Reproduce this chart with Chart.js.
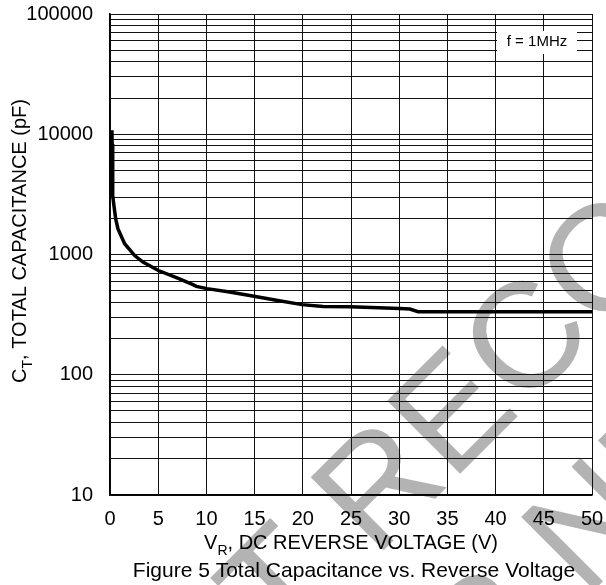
<!DOCTYPE html>
<html>
<head>
<meta charset="utf-8">
<script src="https://cdn.jsdelivr.net/npm/chart.js@4.4.1/dist/chart.umd.min.js"></script>
<style>
  html, body { margin: 0; padding: 0; background: #fff; }
  #wrap { width: 606px; height: 585px; }
</style>
</head>
<body>
<div id="wrap"><canvas id="capChart" width="606" height="585"></canvas></div>
<script>
// Reverse voltage (V) vs total capacitance (pF)
const voltage = [0.2, 0.22, 0.25, 0.28, 0.31, 0.41, 0.59, 0.83, 1.52, 2.56, 3.42, 5.02, 6.89, 8.61, 8.96, 10.06, 12.4, 14.94, 17.26, 19.92, 22.1, 24.9, 30.05, 31.1, 31.96, 50];
const capacitance = [10800, 8300, 6200, 4500, 3080, 2540, 1980, 1630, 1230, 980, 865, 736, 641, 561, 543, 520, 488, 449, 416, 383, 369, 367, 355, 352, 334, 334];

// axis ticks
const xTicks = [0, 5, 10, 15, 20, 25, 30, 35, 40, 45, 50];
const decades = [10, 100, 1000, 10000];
const minorSteps = [1, 2, 3, 4, 5, 6, 7, 8, 9];
const yLabels = ['10', '100', '1000', '10000', '100000'];

const FONT = '"Liberation Sans", Arial, Helvetica, sans-serif';

// every 1..9 x 10^n line, plus the top one
const yTicks = [];
decades.forEach(d => minorSteps.forEach(m => yTicks.push(d * m)));
yTicks.push(100000);

// draws "A" + subscript + rest, centred horizontally on 0, baseline at 0
function textWithSub(ctx, main, sub, rest, size) {
    const subSize = Math.round(size * 0.7);
    ctx.font = size + 'px ' + FONT;
    const w1 = ctx.measureText(main).width;
    const w3 = ctx.measureText(rest).width;
    ctx.font = subSize + 'px ' + FONT;
    const w2 = ctx.measureText(sub).width;
    let x = -(w1 + w2 + w3) / 2;
    ctx.textAlign = 'left';
    ctx.textBaseline = 'alphabetic';
    ctx.font = size + 'px ' + FONT;
    ctx.fillText(main, x, 0);
    x += w1;
    ctx.font = subSize + 'px ' + FONT;
    ctx.fillText(sub, x, size * 0.3);
    x += w2;
    ctx.font = size + 'px ' + FONT;
    ctx.fillText(rest, x, 0);
}

const decorations = {
    id: 'decorations',
    beforeDraw(chart) {
        const ctx = chart.ctx;
        ctx.save();
        ctx.fillStyle = '#fff';
        ctx.fillRect(0, 0, chart.width, chart.height);

        // grey watermark behind the grid, "R" of the first line anchored
        ctx.translate(375, 559);
        ctx.rotate(-Math.PI / 4);
        ctx.font = '150px ' + FONT;
        ctx.fillStyle = '#b3b3b3';
        ctx.textAlign = 'left';
        ctx.textBaseline = 'alphabetic';
        const lead = ctx.measureText('NOT ').width;
        const w1 = ctx.measureText('NOT RECOMMENDED').width;
        const w2 = ctx.measureText('FOR NEW DESIGN').width;
        ctx.fillText('NOT RECOMMENDED', -lead, 0);
        ctx.fillText('FOR NEW DESIGN', -lead + (w1 - w2) / 2, 177);
        ctx.restore();
    },
    afterDraw(chart) {
        const ctx = chart.ctx;
        const area = chart.chartArea;
        ctx.save();
        ctx.fillStyle = '#000';

        // y title
        ctx.save();
        ctx.translate(26, 241);
        ctx.rotate(-Math.PI / 2);
        textWithSub(ctx, 'C', 'T', ', TOTAL CAPACITANCE (pF)', 20);
        ctx.restore();

        // x title
        ctx.save();
        ctx.translate((area.left + area.right) / 2, 549);
        textWithSub(ctx, 'V', 'R', ', DC REVERSE VOLTAGE (V)', 20);
        ctx.restore();

        // caption
        ctx.font = '21px ' + FONT;
        ctx.textAlign = 'center';
        ctx.textBaseline = 'alphabetic';
        ctx.fillText('Figure 5 Total Capacitance vs. Reverse Voltage', 354, 577);

        // frequency note
        ctx.fillStyle = '#fff';
        ctx.fillRect(497, 31, 80, 23);
        ctx.fillStyle = '#000';
        ctx.font = '15px ' + FONT;
        ctx.textBaseline = 'middle';
        ctx.fillText('f = 1MHz', 537, 42);
        ctx.restore();
    }
};

const ctx = document.getElementById('capChart').getContext('2d');
new Chart(ctx, {
    type: 'line',
    data: {
        datasets: [{
            data: voltage.map((v, i) => ({ x: v, y: capacitance[i] })),
            borderColor: '#000',
            borderWidth: 3.5,
            pointRadius: 0,
            tension: 0,
            fill: false
        }]
    },
    options: {
        responsive: false,
        animation: false,
        layout: { padding: 0 },
        plugins: {
            legend: { display: false },
            tooltip: { enabled: false }
        },
        scales: {
            x: {
                type: 'linear',
                min: 0,
                max: 50,
                afterBuildTicks: scale => { scale.ticks = xTicks.map(v => ({ value: v })); },
                afterFit: scale => {
                    scale.height = 90;
                    scale.paddingLeft = 0;
                    scale.paddingRight = 14;
                },
                grid: { color: '#111', lineWidth: 1, drawTicks: false },
                border: { color: '#000', width: 1.5 },
                ticks: {
                    color: '#000',
                    padding: 12,
                    maxRotation: 0,
                    autoSkip: false,
                    font: { family: FONT, size: 20 }
                }
            },
            y: {
                type: 'logarithmic',
                min: 10,
                max: 100000,
                afterBuildTicks: scale => { scale.ticks = yTicks.map(v => ({ value: v })); },
                afterFit: scale => {
                    scale.width = 110;
                    scale.paddingTop = 14;
                    scale.paddingBottom = 0;
                },
                grid: { color: '#111', lineWidth: 1, drawTicks: false },
                border: { color: '#000', width: 1.5 },
                ticks: {
                    color: '#000',
                    padding: 17,
                    autoSkip: false,
                    font: { family: FONT, size: 20 },
                    callback: v => yLabels.includes(String(v)) ? String(v) : ''
                }
            }
        }
    },
    plugins: [decorations]
});
</script>
</body>
</html>
